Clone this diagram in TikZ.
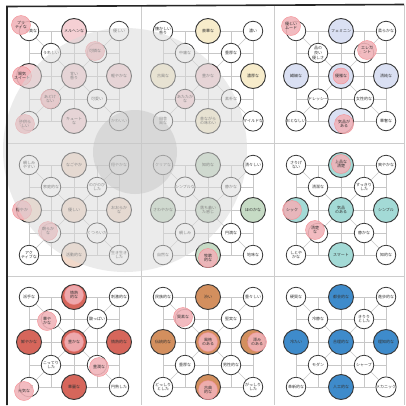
\documentclass[tikz,border=0pt]{standalone}
\usepackage{fontspec}
\newfontfamily\jpfont{Noto Sans CJK JP}
\usetikzlibrary{positioning}
\definecolor{rosefill}{HTML}{F5D0D4}
\definecolor{creamfill}{HTML}{F7ECCB}
\definecolor{lilacfill}{HTML}{DAE0F3}
\definecolor{peachfill}{HTML}{F2D9CA}
\definecolor{sagefill}{HTML}{C6DBC5}
\definecolor{tealfill}{HTML}{A3DAD6}
\definecolor{coralfill}{HTML}{D6665B}
\definecolor{copperfill}{HTML}{D38F5E}
\definecolor{azurefill}{HTML}{3E8BCB}
\definecolor{blush}{HTML}{F1B2B8}

\begin{document}
\begin{tikzpicture}[x=1pt, y=-1pt,
  big/.style={circle, draw=black!78, line width=0.95pt, minimum size=25pt, inner sep=0pt,
    align=center, font=\jpfont\fontsize{4}{4.6}\selectfont, text=black!80},
  small/.style={big, fill=white, line width=0.8pt, minimum size=19.5pt},
  over/.style={circle, fill=blush, fill opacity=0.88, text opacity=1, draw=blush!80!red,
    line width=0.4pt, minimum size=19pt, inner sep=0pt, align=center,
    font=\jpfont\fontsize{4}{4.6}\selectfont, text=black!80},
  lattice/.style={black!22, line width=0.5pt},
  divider/.style={black!20, line width=0.6pt},
  frame/.style={black!85, line width=1.6pt}
]
\useasboundingbox (0,0) rectangle (406,405);
\fill[white] (0,0) rectangle (406,405);
% panel dividers
\draw[divider] (141,6) -- (141,405);
\draw[divider] (274,6) -- (274,405);
\draw[divider] (7,143) -- (404,143);
\draw[divider] (7,276) -- (404,276);
\draw[divider] (404,5) -- (404,405);

% panel a: pink
\begin{scope}[shift={(74,76)}]
\foreach \g in {-23,23} {\draw[lattice] (\g,-45) -- (\g,45); \draw[lattice] (-45,\g) -- (45,\g);}
\node[small] (a-tl) at (-45,-45) {\quad 甘美な};
\node[big, fill=rosefill] (a-t) at (0,-45) {メルヘンな};
\node[small] (a-tr) at (45,-45) {優しい};
\node[small] (a-itl) at (-23,-23) {うれしい};
\node[small] (a-itr) at (23,-23) {};
\node[big, fill=rosefill] (a-l) at (-45,0) {};
\node[big, fill=rosefill] (a-c) at (0,0) {甘い\\香り};
\node[big, fill=rosefill] (a-r) at (45,0) {軽やかな};
\node[small] (a-ibl) at (-23,23) {};
\node[small] (a-ibr) at (23,23) {可愛い};
\node[small] (a-bl) at (-45,45) {};
\node[big, fill=rosefill] (a-b) at (0,45) {キュート\\な};
\node[small] (a-br) at (45,45) {かわいい};
\end{scope}

% panel b: cream
\begin{scope}[shift={(208,76)}]
\foreach \g in {-23,23} {\draw[lattice] (\g,-45) -- (\g,45); \draw[lattice] (-45,\g) -- (45,\g);}
\node[small] (b-tl) at (-45,-45) {懐かしい\\香り};
\node[big, fill=creamfill] (b-t) at (0,-45) {豪華な};
\node[small] (b-tr) at (45,-45) {濃い};
\node[small] (b-itl) at (-23,-23) {中庸な};
\node[small] (b-itr) at (23,-23) {重厚な};
\node[big, fill=creamfill] (b-l) at (-45,0) {古風な};
\node[big, fill=rosefill] (b-c) at (0,0) {豊かな};
\node[big, fill=creamfill] (b-r) at (45,0) {濃厚な};
\node[small, fill=rosefill] (b-ibl) at (-23,23) {あたたか\\な};
\node[small] (b-ibr) at (23,23) {素朴な};
\node[small] (b-bl) at (-45,45) {田舎\\風な};
\node[big, fill=creamfill] (b-b) at (0,45) {昔ながら\\の味わい};
\node[small] (b-br) at (45,45) {マイルドな};
\end{scope}

% panel c: lilac
\begin{scope}[shift={(341,76)}]
\foreach \g in {-23,23} {\draw[lattice] (\g,-45) -- (\g,45); \draw[lattice] (-45,\g) -- (45,\g);}
\node[small] (c-tl) at (-45,-45) {};
\node[big, fill=lilacfill] (c-t) at (0,-45) {フェミニン};
\node[small] (c-tr) at (45,-45) {柔らかな};
\node[small] (c-itl) at (-23,-23) {品の\\良い\\優しさ};
\node[small] (c-itr) at (23,-23) {エ\qquad};
\node[big, fill=lilacfill] (c-l) at (-45,0) {繊細な};
\node[big, fill=lilacfill] (c-c) at (0,0) {};
\node[big, fill=lilacfill] (c-r) at (45,0) {清純な};
\node[small] (c-ibl) at (-23,23) {ドレッシー};
\node[small] (c-ibr) at (23,23) {女性的な};
\node[small] (c-bl) at (-45,45) {おとなしい};
\node[big, fill=lilacfill] (c-b) at (0,45) {P\qquad};
\node[small] (c-br) at (45,45) {華奢な};
\end{scope}

% panel d: peach
\begin{scope}[shift={(74,210)}]
\foreach \g in {-23,23} {\draw[lattice] (\g,-45) -- (\g,45); \draw[lattice] (-45,\g) -- (45,\g);}
\node[small] (d-tl) at (-45,-45) {親しみ\\やすい};
\node[big, fill=peachfill] (d-t) at (0,-45) {なごやか};
\node[small] (d-tr) at (45,-45) {穏やかな};
\node[small] (d-itl) at (-23,-23) {家庭的な};
\node[small] (d-itr) at (23,-23) {のびのび\\した};
\node[big, fill=peachfill] (d-l) at (-45,0) {};
\node[big, fill=peachfill] (d-c) at (0,0) {優しい};
\node[big, fill=peachfill] (d-r) at (45,0) {おおらか\\な};
\node[small] (d-ibl) at (-23,23) {};
\node[small] (d-ibr) at (23,23) {くつろいだ};
\node[small] (d-bl) at (-45,45) {アク\\ティブな};
\node[big, fill=peachfill] (d-b) at (0,45) {活動的な};
\node[small] (d-br) at (45,45) {生き生き\\した};
\end{scope}

% panel e: sage
\begin{scope}[shift={(208,210)}]
\foreach \g in {-23,23} {\draw[lattice] (\g,-45) -- (\g,45); \draw[lattice] (-45,\g) -- (45,\g);}
\node[small] (e-tl) at (-45,-45) {クリアな};
\node[big, fill=sagefill] (e-t) at (0,-45) {知的な};
\node[small] (e-tr) at (45,-45) {清々しい};
\node[small] (e-itl) at (-23,-23) {シンプルな};
\node[small] (e-itr) at (23,-23) {静かな};
\node[big, fill=sagefill] (e-l) at (-45,0) {さわやかな};
\node[big, fill=sagefill] (e-c) at (0,0) {落ち着い\\た感じ};
\node[big, fill=sagefill] (e-r) at (45,0) {ほのかな};
\node[small] (e-ibl) at (-23,23) {親しみ};
\node[small] (e-ibr) at (23,23) {円満な};
\node[small] (e-bl) at (-45,45) {自然な};
\node[big, fill=sagefill] (e-b) at (0,45) {};
\node[small] (e-br) at (45,45) {地味な};
\end{scope}

% panel f: teal
\begin{scope}[shift={(341,210)}]
\foreach \g in {-23,23} {\draw[lattice] (\g,-45) -- (\g,45); \draw[lattice] (-45,\g) -- (45,\g);}
\node[small] (f-tl) at (-45,-45) {さりげ\\ない};
\node[big, fill=tealfill] (f-t) at (0,-45) {};
\node[small] (f-tr) at (45,-45) {爽やかな};
\node[small] (f-itl) at (-23,-23) {清潔な};
\node[small] (f-itr) at (23,-23) {すっきり\\した};
\node[big, fill=tealfill] (f-l) at (-45,0) {};
\node[big, fill=tealfill] (f-c) at (0,0) {気品\\のある};
\node[big, fill=tealfill] (f-r) at (45,0) {シンプル};
\node[small] (f-ibl) at (-23,23) {};
\node[small] (f-ibr) at (23,23) {静かな};
\node[small] (f-bl) at (-45,45) {しとや\\かな};
\node[big, fill=tealfill] (f-b) at (0,45) {スマート};
\node[small] (f-br) at (45,45) {知的な};
\end{scope}

% panel g: coral
\begin{scope}[shift={(74,342)}]
\foreach \g in {-23,23} {\draw[lattice] (\g,-45) -- (\g,45); \draw[lattice] (-45,\g) -- (45,\g);}
\node[small] (g-tl) at (-45,-45) {派手な};
\node[big, fill=coralfill] (g-t) at (0,-45) {};
\node[small] (g-tr) at (45,-45) {刺激的な};
\node[small] (g-itl) at (-23,-23) {};
\node[small] (g-itr) at (23,-23) {酸っぱい};
\node[big, fill=coralfill] (g-l) at (-45,0) {鮮やかな};
\node[big, fill=coralfill] (g-c) at (0,0) {};
\node[big, fill=coralfill] (g-r) at (45,0) {情熱的な};
\node[small] (g-ibl) at (-23,23) {こってり\\した};
\node[small] (g-ibr) at (23,23) {};
\node[small] (g-bl) at (-45,45) {\quad\ な};
\node[big, fill=coralfill] (g-b) at (0,45) {華麗な};
\node[small] (g-br) at (45,45) {円熟した};
\end{scope}

% panel h: copper
\begin{scope}[shift={(208,342)}]
\foreach \g in {-23,23} {\draw[lattice] (\g,-45) -- (\g,45); \draw[lattice] (-45,\g) -- (45,\g);}
\node[small] (h-tl) at (-45,-45) {民族的な};
\node[big, fill=copperfill] (h-t) at (0,-45) {渋い};
\node[small] (h-tr) at (45,-45) {重々しい};
\node[small] (h-itl) at (-23,-23) {};
\node[small] (h-itr) at (23,-23) {堅実な};
\node[big, fill=copperfill] (h-l) at (-45,0) {伝統的な};
\node[big, fill=copperfill] (h-c) at (0,0) {};
\node[big, fill=copperfill] (h-r) at (45,0) {風\qquad};
\node[small] (h-ibl) at (-23,23) {重厚な};
\node[small] (h-ibr) at (23,23) {男性的な};
\node[small] (h-bl) at (-45,45) {どっしり\\とした};
\node[big, fill=copperfill] (h-b) at (0,45) {};
\node[small] (h-br) at (45,45) {がっしり\\した};
\end{scope}

% panel i: azure
\begin{scope}[shift={(341,342)}]
\foreach \g in {-23,23} {\draw[lattice] (\g,-45) -- (\g,45); \draw[lattice] (-45,\g) -- (45,\g);}
\node[small] (i-tl) at (-45,-45) {硬質な};
\node[big, fill=azurefill] (i-t) at (0,-45) {都会的な};
\node[small] (i-tr) at (45,-45) {進歩的な};
\node[small] (i-itl) at (-23,-23) {冷静な};
\node[small] (i-itr) at (23,-23) {きりり\\とした};
\node[big, fill=azurefill] (i-l) at (-45,0) {冷たい};
\node[big, fill=azurefill] (i-c) at (0,0) {合理的な};
\node[big, fill=azurefill] (i-r) at (45,0) {理知的な};
\node[small] (i-ibl) at (-23,23) {モダン};
\node[small] (i-ibr) at (23,23) {シャープ};
\node[small] (i-bl) at (-45,45) {革新的な};
\node[big, fill=azurefill] (i-b) at (0,45) {人工的な};
\node[small] (i-br) at (45,45) {メカニック};
\end{scope}

% lattice links between the nodes
\foreach \p in {a,b,c,d,e,f,g,h,i} {
  \draw[lattice] (\p-tl) -- (\p-t) -- (\p-tr) -- (\p-r) -- (\p-br) -- (\p-b) -- (\p-bl) -- (\p-l) -- (\p-tl);
  \draw[lattice] (\p-t) -- (\p-c) -- (\p-b);
  \draw[lattice] (\p-l) -- (\p-c) -- (\p-r);
  \draw[lattice] (\p-tl) -- (\p-itl) -- (\p-c) -- (\p-ibr) -- (\p-br);
  \draw[lattice] (\p-tr) -- (\p-itr) -- (\p-c) -- (\p-ibl) -- (\p-bl);
}

% pink marks
\node[over, shift={(-8,-6)}] (a-tl-o) at (a-tl) {プリ\\ティな};
\node[over, shift={(-2,-2)}] (a-itr-o) at (a-itr) {可憐な};
\node[over, shift={(-7,0)}] (a-l-o) at (a-l) {陽気\\スイート};
\node[over, shift={(-1,0)}] (a-ibl-o) at (a-ibl) {あどけ\\ない};
\node[over, shift={(-4,3)}] (a-bl-o) at (a-bl) {子供ら\\しい};
\node[over, shift={(-5,-5)}] (c-tl-o) at (c-tl) {優しい\\ムード};
\node[over, shift={(3,-3)}] (c-itr-o) at (c-itr) {エレガ\\ント};
\node[over, minimum size=16pt] (c-c-o) at (c-c) {優雅な};
\node[over, shift={(3,3)}] (c-b-o) at (c-b) {気品が\\ある};
\node[over, shift={(-7,0)}] (d-l-o) at (d-l) {穏やか};
\node[over, shift={(-3,-2)}] (d-ibl-o) at (d-ibl) {朗らか\\な};
\node[over, shift={(0,3)}] (e-b-o) at (e-b) {牧歌\\的な};
\node[over, shift={(0,-1)}] (f-t-o) at (f-t) {上品な\\清楚};
\node[over, shift={(-4,0)}] (f-l-o) at (f-l) {シック};
\node[over, shift={(-3,-3)}] (f-ibl-o) at (f-ibl) {清楚\\な};
\node[over, shift={(0,-2)}] (g-t-o) at (g-t) {情熱\\的な};
\node[over, shift={(-4,2)}] (g-itl-o) at (g-itl) {華や\\かな};
\node[over] (g-c-o) at (g-c) {豊かな};
\node[over, shift={(2,2)}] (g-ibr-o) at (g-ibr) {豊潤な};
\node[over, shift={(-5,4)}] (g-bl-o) at (g-bl) {元気な};
\node[over, shift={(-2,-2)}] (h-itl-o) at (h-itl) {質素な};
\node[over] (h-c-o) at (h-c) {風格\\のある};
\node[over, shift={(4,0)}] (h-r-o) at (h-r) {深み\\のある};
\node[over, shift={(0,3)}] (h-b-o) at (h-b) {古典\\的な};

% glare
\fill[black!15, opacity=0.5] (125,150) circle[radius=122];
\fill[black!26, opacity=0.4] (135,152) circle[radius=42];

% frame
\draw[frame] (7,405) -- (7,6.5) -- (404,4.5);
\end{tikzpicture}
\end{document}
